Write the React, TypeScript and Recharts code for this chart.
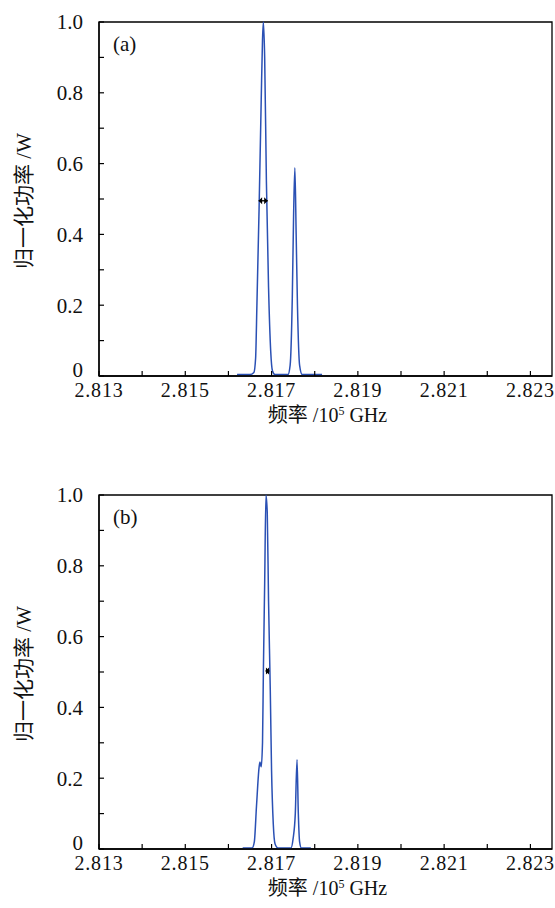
import {
  LineChart,
  Line,
  XAxis,
  YAxis,
  ReferenceArea,
  ReferenceLine,
  Label,
} from "recharts";

const xTicks = [2.813, 2.814, 2.815, 2.816, 2.817, 2.818, 2.819, 2.82, 2.821, 2.822, 2.823];
const yTicks = [0, 0.1, 0.2, 0.3, 0.4, 0.5, 0.6, 0.7, 0.8, 0.9, 1.0];

// (a)
const freqA = [
  2.8162, 2.8165, 2.81659, 2.81663, 2.81666, 2.81671, 2.81676, 2.81679, 2.81681, 2.81684,
  2.81688, 2.81693, 2.81698, 2.81702, 2.81708, 2.81738, 2.81743, 2.81748, 2.81751, 2.81754,
  2.81757, 2.8176, 2.81765, 2.81771, 2.81817,
];
const powerA = [
  0.004, 0.004, 0.01, 0.05, 0.2, 0.47, 0.78, 0.95, 1.0, 0.9,
  0.55, 0.25, 0.07, 0.015, 0.004, 0.004, 0.03, 0.22, 0.45, 0.588,
  0.4, 0.2, 0.03, 0.004, 0.004,
];
const fwhmA = [2.8167, 2.81691];
const fwhmLevelA = 0.495;

// (b)
const freqB = [
  2.81633, 2.81655, 2.8166, 2.81665, 2.81671, 2.81673, 2.81676, 2.81679, 2.81681, 2.81684,
  2.81687, 2.8169, 2.81693, 2.81697, 2.817, 2.81704, 2.81708, 2.81715, 2.81745, 2.8175,
  2.81755, 2.81759, 2.81762, 2.81765, 2.81769, 2.81791,
];
const powerB = [
  0.003, 0.003, 0.02, 0.12, 0.23, 0.246, 0.232, 0.3, 0.5, 0.75,
  1.0, 0.95, 0.7, 0.45, 0.22, 0.07, 0.015, 0.003, 0.003, 0.03,
  0.1, 0.252, 0.1, 0.02, 0.003, 0.003,
];
const fwhmB = [2.81686, 2.81695];
const fwhmLevelB = 0.503;

const X_MIN = 2.813;
const X_MAX = 2.8235;

const SERIF = '"Liberation Serif", "DejaVu Serif", "Noto Sans CJK SC", serif';
const TEXT = "#111";
const BLUE = "#2a50b4";
const serifStyle = { fontFamily: SERIF };

const XTick = (props: any) => {
  const { x, y, payload } = props;
  const v = payload.value as number;
  const labeled = Math.round(v * 1000) % 2 === 1;
  const axisY = y - 15;
  return (
    <g>
      <line x1={x} y1={axisY} x2={x} y2={axisY - 5} stroke="#000" strokeWidth={1.2} />
      {labeled && (
        <text x={x} y={y} dy="0.3em" textAnchor="middle" style={serifStyle} fontSize={20} fill={TEXT} letterSpacing={0.8}>
          {v.toFixed(3)}
        </text>
      )}
    </g>
  );
};

const YTick = (props: any) => {
  const { x, y, payload } = props;
  const v = payload.value as number;
  const labeled = Math.round(v * 10) % 2 === 0;
  const axisX = x + 16;
  return (
    <g>
      <line x1={axisX} y1={y} x2={axisX + 5} y2={y} stroke="#000" strokeWidth={1.2} />
      {labeled && (
        <text x={x} y={v === 0 ? y - 6 : y} dy="0.35em" textAnchor="end" style={serifStyle} fontSize={21} fill={TEXT}>
          {v === 0 ? "0" : v.toFixed(1)}
        </text>
      )}
    </g>
  );
};

const Arrow = (props: any) => {
  const { x1, y1, x2, y2 } = props;
  const h = 3.5;
  return (
    <g>
      <line x1={x1} y1={y1} x2={x2} y2={y2} stroke="#000" strokeWidth={1.3} />
      <path d={`M${x1},${y1} L${x1 + h},${y1 - h} L${x1 + h},${y1 + h} Z`} fill="#000" />
      <path d={`M${x2},${y2} L${x2 - h},${y2 - h} L${x2 - h},${y2 + h} Z`} fill="#000" />
    </g>
  );
};

const XTitle = (props: any) => {
  const vb = props.viewBox;
  const cx = vb.x + vb.width / 2 + 2;
  const cy = vb.y + 39;
  return (
    <text x={cx} y={cy} dy="0.35em" textAnchor="middle" style={serifStyle} fontSize={20} fill={TEXT}>
      <tspan>频率 /10</tspan>
      <tspan dy={-7} fontSize={12}>5</tspan>
      <tspan dy={7}> GHz</tspan>
    </text>
  );
};

const YTitle = (props: any) => {
  const vb = props.viewBox;
  const cx = 24;
  const cy = vb.y + vb.height / 2 + 2;
  return (
    <text
      x={cx}
      y={cy}
      dy="0.35em"
      textAnchor="middle"
      transform={`rotate(-90, ${cx}, ${cy})`}
      style={serifStyle}
      fontSize={21}
      fill={TEXT}
    >
      归一化功率 /W
    </text>
  );
};

interface PanelProps {
  freq: number[];
  power: number[];
  fwhm: number[];
  level: number;
  tag: string;
  top: number;
}

const Panel = ({ freq, power, fwhm, level, tag, top }: PanelProps) => {
  const data = freq.map((f, i) => ({ f, p: power[i] }));
  return (
    <div style={{ position: "absolute", left: 0, top }}>
      <LineChart width={555} height={440} data={data} margin={{ top: 22, right: 3, bottom: 0, left: 0 }}>
        <XAxis
          dataKey="f"
          type="number"
          domain={[X_MIN, X_MAX]}
          ticks={xTicks}
          interval={0}
          allowDataOverflow
          height={64}
          tickSize={0}
          tickMargin={15}
          tick={<XTick />}
          axisLine={{ stroke: "#000", strokeWidth: 1.3 }}
          tickLine={false}
        >
          <Label content={<XTitle />} />
        </XAxis>
        <YAxis
          type="number"
          domain={[0, 1]}
          ticks={yTicks}
          interval={0}
          width={99}
          tickSize={0}
          tickMargin={16}
          tick={<YTick />}
          axisLine={{ stroke: "#000", strokeWidth: 1.3 }}
          tickLine={false}
        >
          <Label content={<YTitle />} />
        </YAxis>
        <ReferenceArea
          x1={X_MIN}
          x2={X_MAX}
          y1={0}
          y2={1}
          fill="none"
          fillOpacity={0}
          stroke="#000"
          strokeWidth={1.3}
          ifOverflow="visible"
        >
          <Label
            value={tag}
            position="insideTopLeft"
            offset={14}
            style={serifStyle}
            fontSize={21}
            fill={TEXT}
          />
        </ReferenceArea>
        <Line
          type="monotone"
          dataKey="p"
          stroke={BLUE}
          strokeWidth={1.5}
          dot={false}
          isAnimationActive={false}
        />
        <ReferenceLine
          segment={[
            { x: fwhm[0], y: level },
            { x: fwhm[1], y: level },
          ]}
          shape={<Arrow />}
          ifOverflow="visible"
        />
      </LineChart>
    </div>
  );
}

export default function App() {
  return (
    <div style={{ position: "absolute", left: 0, top: 0, width: 555, height: 908, background: "#fff" }}>
      <Panel freq={freqA} power={powerA} fwhm={fwhmA} level={fwhmLevelA} tag="(a)" top={0} />
      <Panel freq={freqB} power={powerB} fwhm={fwhmB} level={fwhmLevelB} tag="(b)" top={473} />
    </div>
  );
}
